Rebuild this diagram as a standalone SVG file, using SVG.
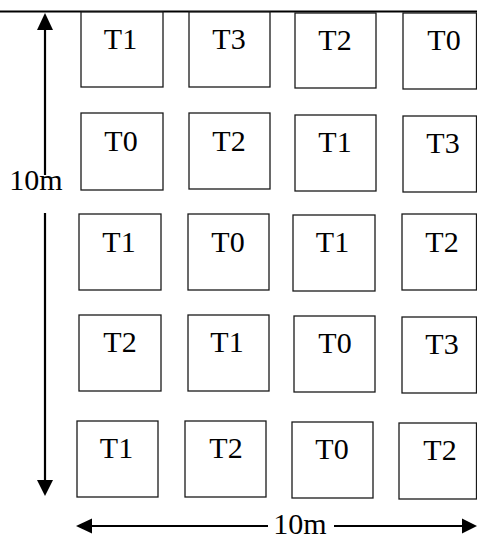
<svg xmlns="http://www.w3.org/2000/svg" width="477" height="536" viewBox="0 0 477 536">
<style>
.box{fill:#fff;stroke:#1a1a1a;stroke-width:1.3}
.lbl{font-family:"Liberation Serif","Times New Roman",serif;font-size:30px;fill:#000;text-anchor:middle}
.ln{stroke:#000;stroke-width:2.2;fill:none}
.hd{fill:#000}
</style>
<rect width="477" height="536" fill="#fff"/>
<g id="connectors">
<line class="ln" x1="0" y1="11.5" x2="477" y2="11.5"/>
<line class="ln" x1="45" y1="28" x2="45" y2="175"/>
<polygon class="hd" points="45,13 37,30 53,30"/>
<line class="ln" x1="45" y1="213" x2="45" y2="482"/>
<polygon class="hd" points="45,496 37,480 53,480"/>
<line class="ln" x1="90" y1="526" x2="268" y2="526"/>
<polygon class="hd" points="76,526 92,518.5 92,533.5"/>
<line class="ln" x1="334" y1="526" x2="466" y2="526"/>
<polygon class="hd" points="477,526 462,518.5 462,533.5"/>
</g>
<g id="dim-v"><text class="lbl" x="36" y="190">10m</text></g>
<g id="dim-h"><text class="lbl" x="300" y="534">10m</text></g>
<g id="r1c1"><rect class="box" x="81" y="12" width="82" height="75"/><text class="lbl" x="120.5" y="49">T1</text></g>
<g id="r1c2"><rect class="box" x="189" y="12" width="81" height="75"/><text class="lbl" x="229" y="49">T3</text></g>
<g id="r1c3"><rect class="box" x="295" y="13" width="81" height="75"/><text class="lbl" x="335" y="50">T2</text></g>
<g id="r1c4"><rect class="box" x="403" y="13" width="73.5" height="76"/><text class="lbl" x="444" y="50">T0</text></g>
<g id="r2c1"><rect class="box" x="81" y="113" width="82" height="77"/><text class="lbl" x="121" y="151">T0</text></g>
<g id="r2c2"><rect class="box" x="189" y="113" width="81" height="76"/><text class="lbl" x="229" y="151">T2</text></g>
<g id="r2c3"><rect class="box" x="295" y="115" width="81" height="76"/><text class="lbl" x="335" y="152">T1</text></g>
<g id="r2c4"><rect class="box" x="403" y="116" width="73.5" height="76"/><text class="lbl" x="443" y="153">T3</text></g>
<g id="r3c1"><rect class="box" x="79" y="214" width="82" height="76"/><text class="lbl" x="119" y="252">T1</text></g>
<g id="r3c2"><rect class="box" x="188" y="214" width="81" height="76"/><text class="lbl" x="228" y="252">T0</text></g>
<g id="r3c3"><rect class="box" x="293" y="215" width="82" height="76"/><text class="lbl" x="332.5" y="252">T1</text></g>
<g id="r3c4"><rect class="box" x="402" y="214" width="74.5" height="76"/><text class="lbl" x="442" y="252">T2</text></g>
<g id="r4c1"><rect class="box" x="79" y="315" width="82" height="76"/><text class="lbl" x="120" y="352">T2</text></g>
<g id="r4c2"><rect class="box" x="188" y="315" width="81" height="76"/><text class="lbl" x="227" y="352">T1</text></g>
<g id="r4c3"><rect class="box" x="294" y="316" width="81" height="76"/><text class="lbl" x="335" y="353">T0</text></g>
<g id="r4c4"><rect class="box" x="402" y="317" width="74.5" height="76"/><text class="lbl" x="442" y="354">T3</text></g>
<g id="r5c1"><rect class="box" x="77" y="421" width="81" height="76"/><text class="lbl" x="116.5" y="458">T1</text></g>
<g id="r5c2"><rect class="box" x="185" y="421" width="81" height="76"/><text class="lbl" x="226" y="458">T2</text></g>
<g id="r5c3"><rect class="box" x="292" y="422" width="81" height="76"/><text class="lbl" x="332" y="459">T0</text></g>
<g id="r5c4"><rect class="box" x="399" y="423" width="77.5" height="76"/><text class="lbl" x="440" y="460">T2</text></g>
</svg>
